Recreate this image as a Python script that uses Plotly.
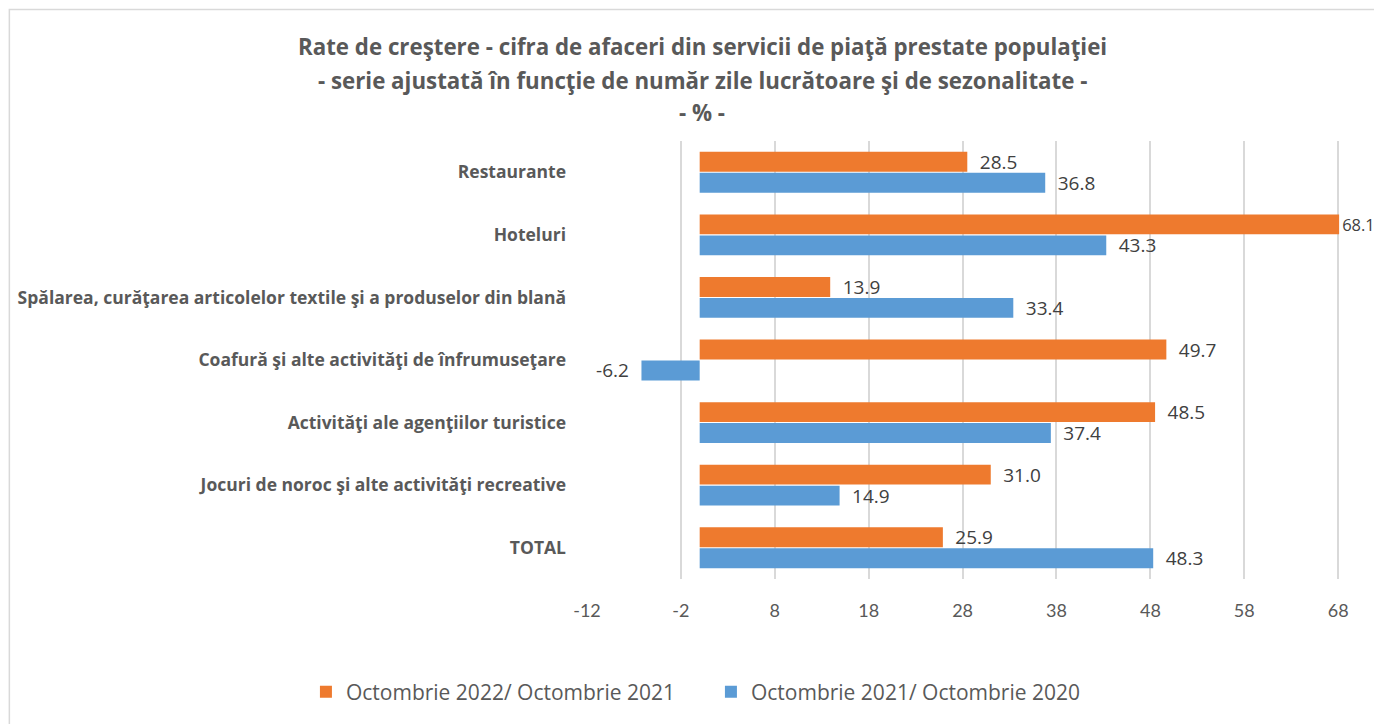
import plotly.graph_objects as go

categories = [
    "Restaurante",
    "Hoteluri",
    "Spălarea, curăţarea articolelor textile şi a produselor din blană",
    "Coafură şi alte activităţi de înfrumuseţare",
    "Activităţi ale agenţiilor turistice",
    "Jocuri de noroc şi alte activităţi recreative",
    "TOTAL",
]
s2022 = [28.5, 68.1, 13.9, 49.7, 48.5, 31.0, 25.9]
s2021 = [36.8, 43.3, 33.4, -6.2, 37.4, 14.9, 48.3]
name2022 = "Octombrie 2022/ Octombrie 2021"
name2021 = "Octombrie 2021/ Octombrie 2020"
tick_vals = [-12, -2, 8, 18, 28, 38, 48, 58, 68]
title_lines = [
    "Rate de creştere - cifra de afaceri din servicii de piaţă prestate populaţiei",
    "- serie ajustată în funcţie de număr zile lucrătoare şi de sezonalitate -",
    "- % -",
]

X_MIN, X_MAX = -12, 68.3

W, H = 1374, 724
PX_PER_UNIT = (1338 - 587) / 80.0
L = 587
R = L + (X_MAX - X_MIN) * PX_PER_UNIT
T, B = 141, 579
pw, ph = R - L, B - T


def px_x(xpage):
    return (xpage - L) / pw


def px_y(ypage):
    return (B - ypage) / ph


FONT = "'Open Sans', sans-serif"
GRAY = "#595959"
PAD = "\u2002"


def labels(vals):
    out = []
    for v in vals:
        p = "" if v > 68 else PAD
        out.append(f"{p}{v:.1f}{p}")
    return out


def label_sizes(vals):
    return [16.5 if v > 68 else 19 for v in vals]


fig = go.Figure()
fig.add_trace(go.Bar(
    y=categories, x=s2022, name=name2022, orientation="h",
    marker=dict(color="#EE7A2E", line=dict(width=0)),
    text=labels(s2022), textposition="outside",
    textfont=dict(size=label_sizes(s2022), color="#404040", family=FONT),
    cliponaxis=False, constraintext="none",
))
fig.add_trace(go.Bar(
    y=categories, x=s2021, name=name2021, orientation="h",
    marker=dict(color="#5B9BD5", line=dict(width=0)),
    text=labels(s2021), textposition="outside",
    textfont=dict(size=label_sizes(s2021), color="#404040", family=FONT),
    cliponaxis=False, constraintext="none",
))

annotations = []
for line, yy in zip(title_lines, [47, 80, 113]):
    annotations.append(dict(
        text=f"<b>{line}</b>", x=px_x(702), y=px_y(yy), xref="paper", yref="paper",
        xanchor="center", yanchor="middle", showarrow=False,
        font=dict(size=22.3, color=GRAY, family=FONT),
    ))

fig.update_layout(
    width=W, height=H,
    margin=dict(l=L, r=W - R, t=T, b=H - B, autoexpand=False),
    paper_bgcolor="white", plot_bgcolor="white",
    barmode="group", bargap=0.33, bargroupgap=0.05,
    font=dict(family=FONT, color=GRAY, size=16),
    showlegend=True,
    legend=dict(
        orientation="h", xref="paper", x=px_x(306), xanchor="left",
        yref="paper", y=px_y(692), yanchor="middle",
        font=dict(size=21, color=GRAY, family=FONT),
        itemwidth=30, traceorder="normal", entrywidth=360,
    ),
    annotations=annotations,
    shapes=[dict(
        type="rect", xref="paper", yref="paper",
        x0=px_x(9.5), x1=px_x(1420), y0=px_y(9.5), y1=px_y(780),
        line=dict(color="#D9D9D9", width=1.5), layer="below",
    )],
)
fig.update_xaxes(
    range=[X_MIN, X_MAX], tickmode="array", tickvals=tick_vals,
    ticktext=[str(v) for v in tick_vals],
    showgrid=True, gridcolor="#D9D9D9", gridwidth=1.5,
    zeroline=False, showline=False, ticks="",
    tickfont=dict(size=18, color=GRAY, family="Lato, sans-serif"),
    ticklabelstandoff=19,
)
fig.update_yaxes(
    autorange="reversed", showgrid=False, zeroline=False, showline=False,
    ticks="", tickfont=dict(size=17.5, color=GRAY, family=FONT),
    ticklabelstandoff=20, tickprefix="<b>", ticksuffix="</b>",
)

fig.write_html(
    "out.html",
    config={"displayModeBar": False},
    post_script="document.body.style.margin='0';document.body.style.overflow='hidden';",
)
